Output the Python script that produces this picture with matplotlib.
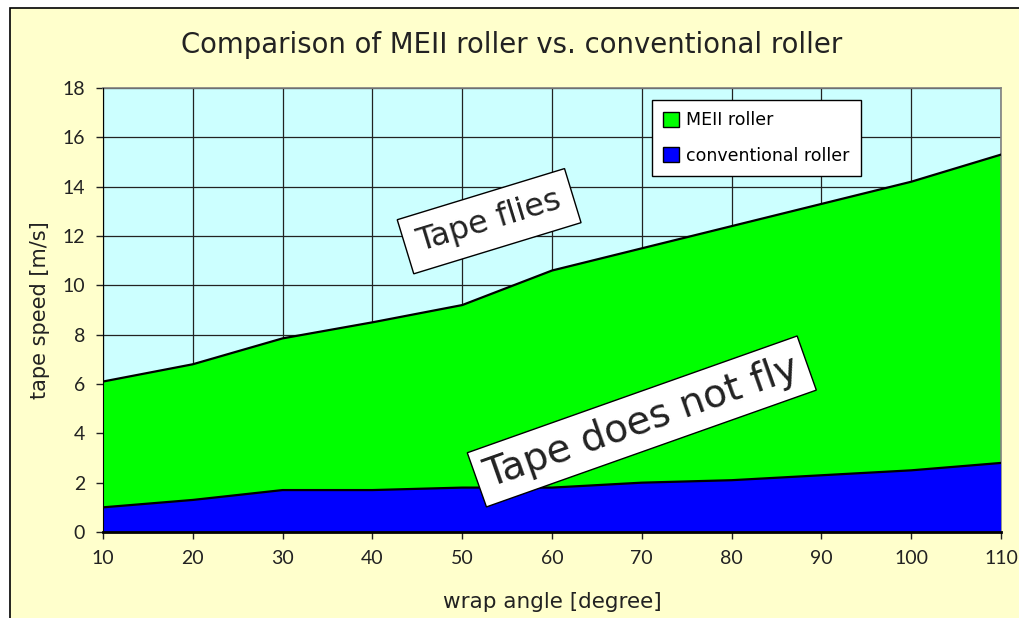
import matplotlib
matplotlib.use("Agg")
import matplotlib.pyplot as plt
from matplotlib.patches import Rectangle, Patch

angles = [10, 20, 30, 40, 50, 60, 70, 80, 90, 100, 110]
meii = [6.1, 6.8, 7.85, 8.5, 9.2, 10.6, 11.5, 12.4, 13.3, 14.2, 15.3]
conventional = [1.0, 1.3, 1.7, 1.7, 1.8, 1.8, 2.0, 2.1, 2.3, 2.5, 2.8]
yticks = [0, 2, 4, 6, 8, 10, 12, 14, 16, 18]
xticks = angles

plt.rcParams['font.family'] = ['Lato', 'DejaVu Sans']

W, H = 1020, 618
fig = plt.figure(figsize=(W / 100, H / 100), dpi=100)
fig.patch.set_facecolor('white')
# chart area background with frame
bg = Rectangle((10 / W, -0.01), 1.0, 1 - 8 / H + 0.01, transform=fig.transFigure,
               facecolor='#FFFFCC', edgecolor='black', linewidth=1.2, zorder=-5)
fig.add_artist(bg)

ax = fig.add_axes([103 / W, 1 - 532 / H, (1001 - 103) / W, (532 - 88) / H])
ax.set_zorder(1)
ax.set_facecolor('#CCFFFF')

ax.fill_between(angles, 0, meii, facecolor='#00FF00', edgecolor='none', zorder=2)
ax.plot(angles, meii, color='black', lw=1.6, zorder=3)
ax.fill_between(angles, 0, conventional, facecolor='#0000FF', edgecolor='none', zorder=4)
ax.plot(angles, conventional, color='black', lw=1.6, zorder=5)

ax.set_xlim(10, 110)
ax.set_ylim(0, 18)
ax.set_xticks(xticks)
ax.set_yticks(yticks)
ax.grid(True, color='#222222', lw=0.9, zorder=1)
ax.set_axisbelow(True)
for s in ['top', 'right']:
    ax.spines[s].set_color('#808080')
    ax.spines[s].set_linewidth(1.2)
ax.spines['left'].set_color('black')
ax.spines['bottom'].set_color('black')
ax.spines['bottom'].set_linewidth(2)
ax.spines['left'].set_zorder(6)
ax.spines['bottom'].set_zorder(6)
ax.tick_params(direction='out', length=5, width=1, labelsize=14, pad=8, colors='#222222')

ax.set_xlabel('wrap angle [degree]', fontsize=15.5, labelpad=18, color='#222222',
              family='DejaVu Sans')
ax.set_ylabel('tape speed [m/s]', fontsize=15, color='#222222',
              family='DejaVu Sans')
ax.yaxis.set_label_coords(-(103 - 50) / 898, 0.5)
fig.text(512 / W, 1 - 45 / H, 'Comparison of MEII roller vs. conventional roller',
         ha='center', va='center', fontsize=19.8, color='#222222', family='DejaVu Sans')

handles = [Patch(facecolor='#00FF00', edgecolor='black', label='MEII roller'),
           Patch(facecolor='#0000FF', edgecolor='black', label='conventional roller')]
leg = ax.legend(handles=handles, loc='upper left', bbox_to_anchor=((652 - 103) / 898, (532 - 100) / 444),
                borderaxespad=0, prop={'family': 'DejaVu Sans', 'size': 12.5},
                frameon=True, fancybox=False, edgecolor='black', facecolor='white',
                framealpha=1, handlelength=0.9, handleheight=0.9, handletextpad=0.4,
                labelspacing=1.0, borderpad=0.65)
leg.get_frame().set_linewidth(1)
leg.set_zorder(10)

ax.text(0.430, 0.70, 'Tape flies', transform=ax.transAxes, rotation=17,
        rotation_mode='anchor', ha='center', va='center', fontsize=23,
        family='DejaVu Sans', color='#222222', zorder=11,
        bbox=dict(boxstyle='square,pad=0.4', facecolor='white', edgecolor='black', lw=1))
ax.text(0.600, 0.249, 'Tape does not fly', transform=ax.transAxes, rotation=19.5,
        rotation_mode='anchor', ha='center', va='center', fontsize=28,
        family='DejaVu Sans', color='#222222', zorder=11,
        bbox=dict(boxstyle='square,pad=0.25', facecolor='white', edgecolor='black', lw=1))

fig.savefig('out.png', dpi=100, facecolor=fig.get_facecolor())
